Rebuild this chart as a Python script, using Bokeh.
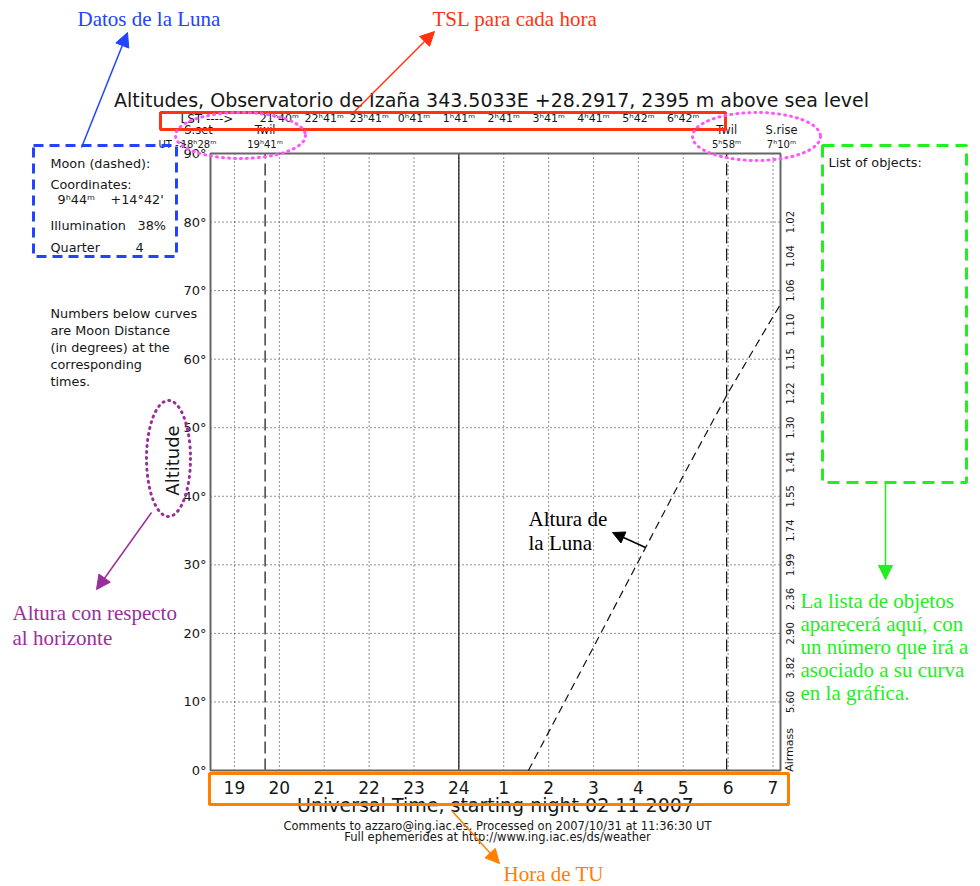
import numpy as np
from bokeh.plotting import figure
from bokeh.models import Range1d, Arrow, NormalHead
from bokeh.core.properties import value
from bokeh.embed import file_html
from bokeh.resources import INLINE

# ---------------- night data (UT hours, after midnight counted as 24+) ----------------
sunset_ut = 18 + 28 / 60
sunrise_ut = 24 + 7 + 10 / 60
twilight_ut = [19 + 41 / 60, 24 + 5 + 58 / 60]
midnight_ut = 24

hour_ticks = [19, 20, 21, 22, 23, 24, 25, 26, 27, 28, 29, 30, 31]
hour_labels = ["19", "20", "21", "22", "23", "24", "1", "2", "3", "4", "5", "6", "7"]

lst_hours = [20, 21, 22, 23, 24, 25, 26, 27, 28, 29]
lst_labels = ["21ʰ40ᵐ", "22ʰ41ᵐ", "23ʰ41ᵐ", "0ʰ41ᵐ", "1ʰ41ᵐ",
              "2ʰ41ᵐ", "3ʰ41ᵐ", "4ʰ41ᵐ", "5ʰ42ᵐ", "6ʰ42ᵐ"]

event_ut = [sunset_ut, twilight_ut[0], twilight_ut[1], sunrise_ut]
event_names = ["S.set", "Twil", "Twil", "S.rise"]
event_times = ["18ʰ28ᵐ", "19ʰ41ᵐ", "5ʰ58ᵐ", "7ʰ10ᵐ"]
event_shift = [-12, 0, 0, 1]

alt_ticks = [0, 10, 20, 30, 40, 50, 60, 70, 80, 90]
alt_labels = ["0°", "10°", "20°", "30°", "40°", "50°", "60°", "70°", "80°", "90°"]

airmass_alt = [80, 75, 70, 65, 60, 55, 50, 45, 40, 35, 30, 25, 20, 15, 10]
airmass_labels = ["1.02", "1.04", "1.06", "1.10", "1.15", "1.22", "1.30", "1.41",
                  "1.55", "1.74", "1.99", "2.36", "2.90", "3.82", "5.60"]

# Moon altitude (dashed curve)
moon_ut = [25.55, 26.0, 27.0, 28.0, 29.0, 30.0, 31.0, 31.1667]
moon_alt = [0.0, 5.6, 18.0, 30.5, 43.0, 55.1, 66.2, 68.0]

# ---------------- page geometry ----------------
W, H = 980, 886
FL, FR, FT, FB = 210, 780, 153, 770   # plot frame edges in page pixels

px_per_hour = (FR - FL) / (sunrise_ut - sunset_ut)
px_per_deg = (FB - FT) / 90.0

p = figure(width=W, height=H, x_range=Range1d(0, W), y_range=Range1d(H, 0),
           min_border=0, toolbar_location=None, output_backend="svg",
           x_axis_type=None, y_axis_type=None)
p.outline_line_color = None
p.background_fill_color = "white"
p.border_fill_color = "white"
p.extra_x_ranges = {"hours": Range1d(sunset_ut - FL / px_per_hour,
                                     sunset_ut + (W - FL) / px_per_hour)}
p.extra_y_ranges = {"alt": Range1d(-(H - FB) / px_per_deg, FB / px_per_deg)}

HX = dict(x_range_name="hours")
AY = dict(y_range_name="alt")
HA = dict(x_range_name="hours", y_range_name="alt")
PG = value("DejaVu Sans")
SERIF = value("Liberation Serif")
INK = "#161616"

# ---------------- grid and frame ----------------
p.segment(x0=hour_ticks, y0=[0] * len(hour_ticks), x1=hour_ticks, y1=[90] * len(hour_ticks),
          line_color="#222222", line_width=1, line_dash="1 3", **HA)
inner_alts = alt_ticks[1:-1]
p.segment(x0=[sunset_ut] * len(inner_alts), y0=inner_alts,
          x1=[sunrise_ut] * len(inner_alts), y1=inner_alts,
          line_color="#222222", line_width=1, line_dash="1 3", **HA)

p.segment(x0=twilight_ut, y0=[0, 0], x1=twilight_ut, y1=[90, 90],
          line_color="#111111", line_width=1.2, line_dash="12 5", **HA)
p.segment(x0=[midnight_ut], y0=[0], x1=[midnight_ut], y1=[90],
          line_color="#111111", line_width=1.2, **HA)

p.quad(left=[sunset_ut], right=[sunrise_ut], bottom=[0], top=[90],
       fill_alpha=0, line_color="#666666", line_width=2, **HA)

# Moon
p.line(moon_ut, moon_alt, line_color="#111111", line_width=1.2, line_dash="8 5", **HA)

# ---------------- axis texts ----------------
p.text(x=[206] * len(alt_ticks), y=alt_ticks, text=alt_labels, text_font=PG,
       text_font_size="13px", text_color=INK, text_align="right",
       text_baseline="middle", **AY)
p.text(x=[172], y=[460], text=["Altitude"], text_font=PG, text_font_size="18px",
       text_color=INK, text_align="center", text_baseline="middle", angle=np.pi / 2)

p.text(x=hour_ticks, y=[787] * len(hour_ticks), text=hour_labels, text_font=PG,
       text_font_size="17px", text_color=INK, text_align="center",
       text_baseline="middle", **HX)
p.text(x=[495], y=[804], text=["Universal Time, starting night 02 11 2007"],
       text_font=PG, text_font_size="19px", text_color=INK, text_align="center",
       text_baseline="middle")
p.text(x=[497, 497], y=[825, 836],
       text=["Comments to azzaro@ing.iac.es. Processed on 2007/10/31 at 11:36:30 UT",
             "Full ephemerides at http://www.ing.iac.es/ds/weather"],
       text_font=PG, text_font_size="11.5px", text_color=INK, text_align="center",
       text_baseline="middle")

p.text(x=[789] * len(airmass_alt), y=airmass_alt, text=airmass_labels, text_font=PG,
       text_font_size="10px", text_color=INK, text_align="center",
       text_baseline="middle", angle=np.pi / 2, **AY)
p.text(x=[789], y=[3], text=["Airmass"], text_font=PG, text_font_size="11px",
       text_color=INK, text_align="center", text_baseline="middle",
       angle=np.pi / 2, **AY)

# ---------------- header ----------------
p.text(x=[491], y=[99],
       text=["Altitudes, Observatorio de Izaña 343.5033E +28.2917, 2395 m above sea level"],
       text_font=PG, text_font_size="19px", text_color=INK, text_align="center",
       text_baseline="middle")
p.text(x=[180], y=[118], text=["LST ---->"], text_font=PG, text_font_size="12px",
       text_color=INK, text_align="left", text_baseline="middle")
p.text(x=lst_hours, y=[118] * len(lst_hours), text=lst_labels, text_font=PG,
       text_font_size="11px", text_color=INK, text_align="center",
       text_baseline="middle", **HX)
p.text(x=event_ut, y=[129] * 4, text=event_names, x_offset=event_shift, text_font=PG,
       text_font_size="11.5px", text_color=INK, text_align="center",
       text_baseline="middle", **HX)
p.text(x=event_ut, y=[144] * 4, text=event_times, x_offset=event_shift, text_font=PG,
       text_font_size="10px", text_color=INK, text_align="center",
       text_baseline="middle", **HX)
p.text(x=[158], y=[144], text=["UT ->"], text_font=PG, text_font_size="10px",
       text_color=INK, text_align="left", text_baseline="middle")

# ---------------- side panels ----------------
moon_info_x = [50, 50, 57, 110, 50, 137, 50, 135]
moon_info_y = [163, 184, 199, 199, 225, 225, 247, 247]
moon_info = ["Moon (dashed):", "Coordinates:", "9ʰ44ᵐ", "+14°42'",
             "Illumination", "38%", "Quarter", "4"]
p.text(x=moon_info_x, y=moon_info_y, text=moon_info, text_font=PG,
       text_font_size="12.8px", text_color=INK, text_align="left", text_baseline="middle")

note = ["Numbers below curves", "are Moon Distance", "(in degrees) at the",
        "corresponding", "times."]
p.text(x=[50] * 5, y=[313, 330, 347, 364, 381], text=note, text_font=PG,
       text_font_size="12.8px", text_color=INK, text_align="left", text_baseline="middle")

p.text(x=[828], y=[162], text=["List of objects:"], text_font=PG,
       text_font_size="12.8px", text_color=INK, text_align="left", text_baseline="middle")

# ---------------- explanatory call-outs ----------------
BLUE, RED, PURPLE, GREEN, ORANGE, PINK = "#2244ff", "#ff3311", "#9a2f9a", "#22ee22", "#ff8000", "#ff55ff"

# Boxes
p.quad(left=[33], right=[176], top=[145], bottom=[256], fill_alpha=0,
       line_color=BLUE, line_width=3, line_dash="10 6")
p.quad(left=[160], right=[725], top=[112], bottom=[129], fill_alpha=0,
       line_color=RED, line_width=3)
p.quad(left=[822], right=[966], top=[145], bottom=[482], fill_alpha=0,
       line_color=GREEN, line_width=3, line_dash="12 7")
p.quad(left=[209], right=[788], top=[773], bottom=[804], fill_alpha=0,
       line_color=ORANGE, line_width=3)

# Dotted ellipses
p.ellipse(x=[240, 756], y=[135, 136], width=[130, 128], height=[46, 48],
          fill_alpha=0, line_color=PINK, line_width=3, line_dash="1 5", line_cap="round")
p.ellipse(x=[168], y=[458], width=[44], height=[116], fill_alpha=0,
          line_color=PURPLE, line_width=3, line_dash="1 5", line_cap="round")

# Arrows
def arrow(x0, y0, x1, y1, color, width=1.5, size=14):
    p.add_layout(Arrow(end=NormalHead(size=size, fill_color=color, line_color=color),
                       x_start=x0, y_start=y0, x_end=x1, y_end=y1,
                       line_color=color, line_width=width))

arrow(81, 147, 127, 32, BLUE)
arrow(352, 113, 434, 31, RED)
arrow(151, 512, 96, 589, PURPLE)
arrow(885, 482, 885, 579, GREEN)
arrow(452, 811, 499, 863, ORANGE)
arrow(645, 547, 612, 532, "#000000", 1.5, 12)

# Labels
p.text(x=[77], y=[18], text=["Datos de la Luna"], text_font=SERIF, text_font_size="21px",
       text_color=BLUE, text_align="left", text_baseline="middle")
p.text(x=[432], y=[18], text=["TSL para cada hora"], text_font=SERIF, text_font_size="21px",
       text_color=RED, text_align="left", text_baseline="middle")
p.text(x=[12, 12], y=[612, 637], text=["Altura con respecto", "al horizonte"],
       text_font=SERIF, text_font_size="21px", text_color=PURPLE, text_align="left",
       text_baseline="middle")
p.text(x=[800] * 5, y=[600, 623, 646, 669, 692],
       text=["La lista de objetos", "aparecerá aquí, con", "un número que irá a",
             "asociado a su curva", "en la gráfica."],
       text_font=SERIF, text_font_size="21px", text_color=GREEN, text_align="left",
       text_baseline="middle")
p.text(x=[503], y=[873], text=["Hora de TU"], text_font=SERIF, text_font_size="21px",
       text_color=ORANGE, text_align="left", text_baseline="middle")
p.text(x=[528, 528], y=[518, 542], text=["Altura de", "la Luna"], text_font=SERIF,
       text_font_size="21px", text_color="#000000", text_align="left",
       text_baseline="middle")

open("out.html", "w").write(file_html(p, INLINE))
